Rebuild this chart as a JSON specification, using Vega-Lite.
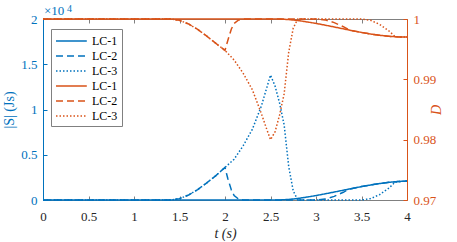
{
"$schema": "https://vega.github.io/schema/vega-lite/v6.json",
"width": 364, "height": 181,
"autosize": {"type": "none"},
"padding": {"left": 43, "top": 19, "right": 50, "bottom": 42},
"config": {
  "font": "Liberation Serif",
  "view": {"stroke": null},
  "text": {"font": "Liberation Serif"},
  "legend": {"labelFont": "Liberation Serif"},
  "axis": {"grid": false, "labelFont": "Liberation Serif", "titleFont": "Liberation Serif", "labelFontSize": 13, "titleFontSize": 14, "titleFontWeight": "normal", "tickSize": -4, "labelPadding": 10, "domainWidth": 1, "tickWidth": 1}
},
"datasets": {
  "curves": [
    {"k":"S LC-1","t":0,"v":0},{"k":"S LC-1","t":2.6,"v":0},{"k":"S LC-1","t":2.7,"v":60},{"k":"S LC-1","t":2.8,"v":170},{"k":"S LC-1","t":2.9,"v":320},{"k":"S LC-1","t":3.0,"v":490},{"k":"S LC-1","t":3.1,"v":680},{"k":"S LC-1","t":3.2,"v":880},{"k":"S LC-1","t":3.3,"v":1080},{"k":"S LC-1","t":3.4,"v":1280},{"k":"S LC-1","t":3.5,"v":1480},{"k":"S LC-1","t":3.6,"v":1660},{"k":"S LC-1","t":3.7,"v":1820},{"k":"S LC-1","t":3.8,"v":1950},{"k":"S LC-1","t":3.9,"v":2040},{"k":"S LC-1","t":4,"v":2100},
    {"k":"S LC-2","t":0,"v":0},{"k":"S LC-2","t":1.4,"v":0},{"k":"S LC-2","t":1.5,"v":150},{"k":"S LC-2","t":1.6,"v":550},{"k":"S LC-2","t":1.7,"v":1150},{"k":"S LC-2","t":1.8,"v":1900},{"k":"S LC-2","t":1.9,"v":2700},{"k":"S LC-2","t":2.0,"v":3600},{"k":"S LC-2","t":2.03,"v":2400},{"k":"S LC-2","t":2.07,"v":1100},{"k":"S LC-2","t":2.1,"v":500},{"k":"S LC-2","t":2.15,"v":100},{"k":"S LC-2","t":2.2,"v":0},{"k":"S LC-2","t":3.0,"v":0},{"k":"S LC-2","t":3.1,"v":100},{"k":"S LC-2","t":3.2,"v":400},{"k":"S LC-2","t":3.3,"v":850},{"k":"S LC-2","t":3.36,"v":1200},{"k":"S LC-2","t":3.4,"v":1280},{"k":"S LC-2","t":3.5,"v":1480},{"k":"S LC-2","t":3.6,"v":1660},{"k":"S LC-2","t":3.7,"v":1820},{"k":"S LC-2","t":3.8,"v":1950},{"k":"S LC-2","t":3.9,"v":2040},{"k":"S LC-2","t":4,"v":2100},
    {"k":"S LC-3","t":0,"v":0},{"k":"S LC-3","t":1.4,"v":0},{"k":"S LC-3","t":1.5,"v":150},{"k":"S LC-3","t":1.6,"v":550},{"k":"S LC-3","t":1.7,"v":1150},{"k":"S LC-3","t":1.8,"v":1900},{"k":"S LC-3","t":1.9,"v":2700},{"k":"S LC-3","t":2.0,"v":3600},{"k":"S LC-3","t":2.1,"v":4500},{"k":"S LC-3","t":2.2,"v":6000},{"k":"S LC-3","t":2.3,"v":7800},{"k":"S LC-3","t":2.4,"v":10400},{"k":"S LC-3","t":2.45,"v":12100},{"k":"S LC-3","t":2.5,"v":13800},{"k":"S LC-3","t":2.55,"v":12600},{"k":"S LC-3","t":2.6,"v":10700},{"k":"S LC-3","t":2.65,"v":8300},{"k":"S LC-3","t":2.7,"v":3700},{"k":"S LC-3","t":2.75,"v":1000},{"k":"S LC-3","t":2.8,"v":0},{"k":"S LC-3","t":3.5,"v":0},{"k":"S LC-3","t":3.6,"v":150},{"k":"S LC-3","t":3.7,"v":600},{"k":"S LC-3","t":3.8,"v":1300},{"k":"S LC-3","t":3.87,"v":1980},{"k":"S LC-3","t":3.9,"v":2040},{"k":"S LC-3","t":4,"v":2100},
    {"k":"D LC-1","t":0,"v":1},{"k":"D LC-1","t":2.6,"v":1},{"k":"D LC-1","t":2.7,"v":0.99991},{"k":"D LC-1","t":2.8,"v":0.99975},{"k":"D LC-1","t":2.9,"v":0.99952},{"k":"D LC-1","t":3.0,"v":0.99927},{"k":"D LC-1","t":3.1,"v":0.99898},{"k":"D LC-1","t":3.2,"v":0.99868},{"k":"D LC-1","t":3.3,"v":0.99837},{"k":"D LC-1","t":3.4,"v":0.99806},{"k":"D LC-1","t":3.5,"v":0.99777},{"k":"D LC-1","t":3.6,"v":0.99751},{"k":"D LC-1","t":3.7,"v":0.9973},{"k":"D LC-1","t":3.8,"v":0.99713},{"k":"D LC-1","t":3.9,"v":0.99704},{"k":"D LC-1","t":4,"v":0.997},
    {"k":"D LC-2","t":0,"v":1},{"k":"D LC-2","t":1.4,"v":1},{"k":"D LC-2","t":1.5,"v":0.99978},{"k":"D LC-2","t":1.6,"v":0.99918},{"k":"D LC-2","t":1.7,"v":0.99828},{"k":"D LC-2","t":1.8,"v":0.99715},{"k":"D LC-2","t":1.9,"v":0.99595},{"k":"D LC-2","t":2.0,"v":0.9948},{"k":"D LC-2","t":2.03,"v":0.9964},{"k":"D LC-2","t":2.07,"v":0.99835},{"k":"D LC-2","t":2.1,"v":0.99925},{"k":"D LC-2","t":2.15,"v":0.99985},{"k":"D LC-2","t":2.2,"v":1},{"k":"D LC-2","t":3.0,"v":1},{"k":"D LC-2","t":3.1,"v":0.99985},{"k":"D LC-2","t":3.2,"v":0.9994},{"k":"D LC-2","t":3.3,"v":0.99873},{"k":"D LC-2","t":3.36,"v":0.99822},{"k":"D LC-2","t":3.4,"v":0.99806},{"k":"D LC-2","t":3.5,"v":0.99777},{"k":"D LC-2","t":3.6,"v":0.99751},{"k":"D LC-2","t":3.7,"v":0.9973},{"k":"D LC-2","t":3.8,"v":0.99713},{"k":"D LC-2","t":3.9,"v":0.99704},{"k":"D LC-2","t":4,"v":0.997},
    {"k":"D LC-3","t":0,"v":1},{"k":"D LC-3","t":1.4,"v":1},{"k":"D LC-3","t":1.5,"v":0.99978},{"k":"D LC-3","t":1.6,"v":0.99918},{"k":"D LC-3","t":1.7,"v":0.99828},{"k":"D LC-3","t":1.8,"v":0.99715},{"k":"D LC-3","t":1.9,"v":0.99595},{"k":"D LC-3","t":2.0,"v":0.9948},{"k":"D LC-3","t":2.1,"v":0.9932},{"k":"D LC-3","t":2.2,"v":0.991},{"k":"D LC-3","t":2.3,"v":0.9883},{"k":"D LC-3","t":2.4,"v":0.9843},{"k":"D LC-3","t":2.45,"v":0.9821},{"k":"D LC-3","t":2.5,"v":0.98},{"k":"D LC-3","t":2.55,"v":0.9813},{"k":"D LC-3","t":2.6,"v":0.9841},{"k":"D LC-3","t":2.65,"v":0.9876},{"k":"D LC-3","t":2.7,"v":0.9945},{"k":"D LC-3","t":2.75,"v":0.9985},{"k":"D LC-3","t":2.8,"v":1},{"k":"D LC-3","t":3.5,"v":1},{"k":"D LC-3","t":3.6,"v":0.99978},{"k":"D LC-3","t":3.7,"v":0.9991},{"k":"D LC-3","t":3.8,"v":0.99805},{"k":"D LC-3","t":3.87,"v":0.99708},{"k":"D LC-3","t":3.9,"v":0.99704},{"k":"D LC-3","t":4,"v":0.997}
  ],
  "note": [{"t": 0, "v": 20000, "a": "×10", "b": "4"}]
},
"layer": [
  {
    "encoding": {
      "x": {"field": "t", "type": "quantitative", "scale": {"domain": [0, 4], "nice": false},
            "axis": {"orient": "bottom", "values": [0,0.5,1,1.5,2,2.5,3,3.5,4], "labelExpr": "'' + datum.value", "title": "t (s)", "titleFontStyle": "italic", "domainColor": "#808080", "tickColor": "#808080", "labelColor": "#262626", "titleColor": "#262626", "labelPadding": 14, "titlePadding": 3, "labelFlush": false}},
      "y": {"field": "v", "type": "quantitative", "scale": {"domain": [0, 20000], "nice": false},
            "axis": {"orient": "left", "values": [0,5000,10000,15000,20000], "labelExpr": "'' + datum.value/10000", "title": "|S| (Js)", "domainColor": "#0072BD", "tickColor": "#0072BD", "labelColor": "#0072BD", "titleColor": "#0072BD", "titlePadding": 4}}
    },
    "layer": [
      {
        "data": {"name": "curves"},
        "transform": [{"filter": "slice(datum.k,0,1)=='S'"}],
        "mark": {"type": "line", "strokeWidth": 1.5},
        "encoding": {
          "color": {"field": "k", "type": "nominal",
                    "scale": {"domain": ["S LC-1","S LC-2","S LC-3","D LC-1","D LC-2","D LC-3"], "range": ["#0072BD","#0072BD","#0072BD","#D95319","#D95319","#D95319"]},
                    "legend": {"orient": "none", "legendX": 8, "legendY": 10, "title": null, "symbolType": "M-2.2,0H2.2", "symbolSize": 196, "symbolStrokeWidth": 1.5, "symbolOffset": 8.4, "labelOffset": 12.5, "labelFontSize": 12, "labelColor": "#000000", "strokeColor": "#808080", "fillColor": "#ffffff", "padding": 4, "rowPadding": 1, "labelExpr": "slice(datum.label, 2)"}},
          "strokeDash": {"field": "k", "type": "nominal",
                    "scale": {"domain": ["S LC-1","S LC-2","S LC-3","D LC-1","D LC-2","D LC-3"], "range": [[1,0],[7,4],[1.5,2],[1,0],[7,4],[1.5,2]]},
                    "legend": {"orient": "none", "legendX": 8, "legendY": 10, "title": null, "symbolType": "M-2.2,0H2.2", "symbolSize": 196, "symbolStrokeWidth": 1.5, "symbolOffset": 8.4, "labelOffset": 12.5, "labelFontSize": 12, "labelColor": "#000000", "strokeColor": "#808080", "fillColor": "#ffffff", "padding": 4, "rowPadding": 1, "labelExpr": "slice(datum.label, 2)"}}
        }
      },
      {
        "data": {"name": "note"},
        "mark": {"type": "text", "align": "left", "baseline": "alphabetic", "dx": 1, "dy": -4, "fontSize": 13, "color": "#0072BD"},
        "encoding": {"text": {"field": "a"}}
      },
      {
        "data": {"name": "note"},
        "mark": {"type": "text", "align": "left", "baseline": "alphabetic", "dx": 24, "dy": -7, "fontSize": 10, "color": "#0072BD"},
        "encoding": {"text": {"field": "b"}}
      }
    ]
  },
  {
    "data": {"name": "curves"},
    "transform": [{"filter": "slice(datum.k,0,1)=='D'"}],
    "mark": {"type": "line", "strokeWidth": 1.5},
    "encoding": {
      "x": {"field": "t", "type": "quantitative", "axis": {"orient": "top", "values": [0,0.5,1,1.5,2,2.5,3,3.5,4], "labels": false, "title": null, "domainColor": "#808080", "tickColor": "#808080"}},
      "y": {"field": "v", "type": "quantitative", "scale": {"domain": [0.97, 1], "nice": false, "zero": false},
            "axis": {"orient": "right", "values": [0.97,0.98,0.99,1], "labelExpr": "'' + round(datum.value*100)/100", "title": "D", "titleFontStyle": "italic", "titleAngle": 270, "domainColor": "#D95319", "tickColor": "#D95319", "labelColor": "#D95319", "titleColor": "#D95319", "titlePadding": 8}},
      "color": {"field": "k", "type": "nominal"},
      "strokeDash": {"field": "k", "type": "nominal"}
    }
  }
],
"resolve": {"scale": {"y": "independent"}}
}
